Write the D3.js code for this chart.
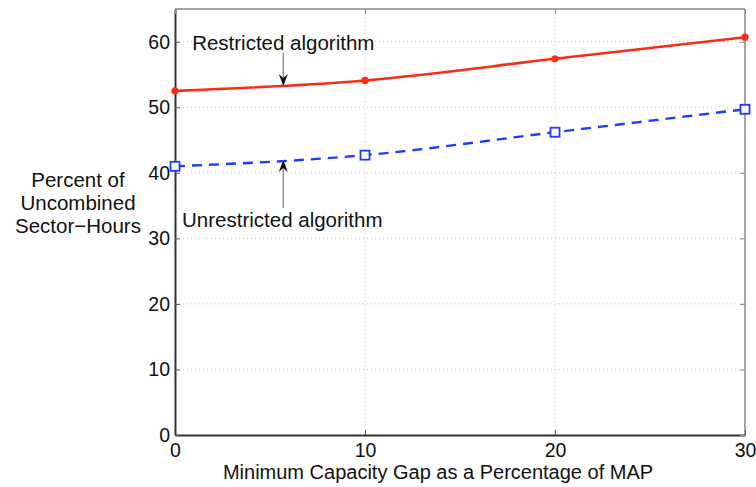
<!DOCTYPE html>
<html>
<head>
<meta charset="utf-8">
<script src="https://cdn.jsdelivr.net/npm/d3@7"></script>
<style>
  body { margin: 0; background: #fff; }
  svg text { font-family: "Liberation Sans", Arial, Helvetica, sans-serif; fill: #111; }
</style>
</head>
<body>
<div id="chart"></div>
<script>
// data
const gap_pct = [0, 10, 20, 30]
const restricted = [52.5, 54.1, 57.4, 60.7]
const unrestricted = [41.0, 42.7, 46.2, 49.7]
const x_ticks = [0, 10, 20, 30]
const y_ticks = [0, 10, 20, 30, 40, 50, 60]
const y_label_lines = ["Percent of", "Uncombined", "Sector\u2212Hours"]

const W = 756, H = 487
const margin = {top: 9, right: 11, bottom: 52, left: 175}
const width = W - margin.left - margin.right,
      height = H - margin.top - margin.bottom

const svg = d3.select("#chart").append("svg")
    .attr("width", W)
    .attr("height", H)
const g = svg.append("g")
    .attr("transform", "translate(" + margin.left + "," + margin.top + ")")

const x = d3.scaleLinear().domain([0, 30]).range([0, width])
const y = d3.scaleLinear().domain([0, 65]).range([height, 0])

// dotted grid
g.append("g").selectAll("line").data(y_ticks.filter(d => d > 0)).enter()
    .append("line")
    .attr("x1", 0).attr("x2", width)
    .attr("y1", d => y(d)).attr("y2", d => y(d))
    .attr("stroke", "#c8c8c8").attr("stroke-width", 1)
    .attr("stroke-dasharray", "1,3")
g.append("g").selectAll("line").data(x_ticks.filter(d => d > 0 && d < 30)).enter()
    .append("line")
    .attr("x1", d => x(d)).attr("x2", d => x(d))
    .attr("y1", 0).attr("y2", height)
    .attr("stroke", "#c8c8c8").attr("stroke-width", 1)
    .attr("stroke-dasharray", "1,3")

// box: top and right (lighter)
g.append("line").attr("x1", 0).attr("x2", width).attr("y1", 0).attr("y2", 0)
    .attr("stroke", "#888").attr("stroke-width", 1.5)
g.append("line").attr("x1", width).attr("x2", width).attr("y1", 0).attr("y2", height)
    .attr("stroke", "#888").attr("stroke-width", 1.5)

// axes with inward ticks
const xAxis = g.append("g")
    .attr("transform", "translate(0," + height + ")")
    .call(d3.axisBottom(x).tickValues(x_ticks).tickSizeInner(-5).tickSizeOuter(0).tickPadding(8))
const yAxis = g.append("g")
    .call(d3.axisLeft(y).tickValues(y_ticks).tickSizeInner(-5).tickSizeOuter(0).tickPadding(5))
const yAxisR = g.append("g")
    .attr("transform", "translate(" + width + ",0)")
    .call(d3.axisRight(y).tickValues(y_ticks).tickSizeInner(-5).tickSizeOuter(0).tickFormat(""))
const xAxisT = g.append("g")
    .call(d3.axisTop(x).tickValues(x_ticks).tickSizeInner(-5).tickSizeOuter(0).tickFormat(""))

;[xAxis, yAxis].forEach(a => {
    a.select(".domain").attr("stroke", "#333").attr("stroke-width", 2)
    a.selectAll(".tick line").attr("stroke", "#555")
    a.selectAll("text").style("font-size", "19.5px").attr("fill", "#111")
})
;[yAxisR, xAxisT].forEach(a => {
    a.select(".domain").remove()
    a.selectAll(".tick line").attr("stroke", "#888")
})

// lines
const line = d3.line()
    .x((d, i) => x(gap_pct[i]))
    .y(d => y(d))
    .curve(d3.curveMonotoneX)

g.append("path")
    .datum(restricted)
    .attr("fill", "none")
    .attr("stroke", "#ff2a14")
    .attr("stroke-width", 2.6)
    .attr("d", line)
g.selectAll(".rdot").data(restricted).enter()
    .append("circle")
    .attr("cx", (d, i) => x(gap_pct[i]))
    .attr("cy", d => y(d))
    .attr("r", 3.6)
    .attr("fill", "#ff2a14")

g.append("path")
    .datum(unrestricted)
    .attr("fill", "none")
    .attr("stroke", "#1e3cff")
    .attr("stroke-width", 2.4)
    .attr("stroke-dasharray", "10,7")
    .attr("d", line)
g.selectAll(".usq").data(unrestricted).enter()
    .append("rect")
    .attr("x", (d, i) => x(gap_pct[i]) - 4.5)
    .attr("y", d => y(d) - 4.5)
    .attr("width", 9).attr("height", 9)
    .attr("fill", "#fff")
    .attr("stroke", "#1e3cff")
    .attr("stroke-width", 1.8)

// annotations with arrows
const arrow_x = 5.7
function arrow(x0, y_from, y_to) {
    g.append("line")
        .attr("x1", x(x0)).attr("x2", x(x0))
        .attr("y1", y_from).attr("y2", y_to)
        .attr("stroke", "#888").attr("stroke-width", 1.3)
    const dir = y_to > y_from ? 1 : -1
    g.append("path")
        .attr("d", "M" + x(x0) + "," + y_to +
            " L" + (x(x0) - 4.5) + "," + (y_to - dir * 12) +
            " L" + x(x0) + "," + (y_to - dir * 8) +
            " L" + (x(x0) + 4.5) + "," + (y_to - dir * 12) + " Z")
        .attr("fill", "#111")
}
arrow(arrow_x, 53 - margin.top, 86 - margin.top)
arrow(arrow_x, 208 - margin.top, 160 - margin.top)

g.append("text")
    .attr("x", x(arrow_x)).attr("y", 50 - margin.top)
    .attr("text-anchor", "middle")
    .style("font-size", "20.5px")
    .text("Restricted algorithm")
g.append("text")
    .attr("x", x(arrow_x) - 1).attr("y", 227 - margin.top)
    .attr("text-anchor", "middle")
    .style("font-size", "20.5px")
    .text("Unrestricted algorithm")

// axis labels
svg.append("text")
    .attr("x", 438)
    .attr("y", 479)
    .attr("text-anchor", "middle")
    .style("font-size", "20px")
    .text("Minimum Capacity Gap as a Percentage of MAP")

svg.append("g").selectAll("text").data(y_label_lines).enter()
    .append("text")
    .attr("x", 78)
    .attr("y", (d, i) => 187 + i * 23)
    .attr("text-anchor", "middle")
    .style("font-size", "20.5px")
    .text(d => d)
</script>
</body>
</html>
